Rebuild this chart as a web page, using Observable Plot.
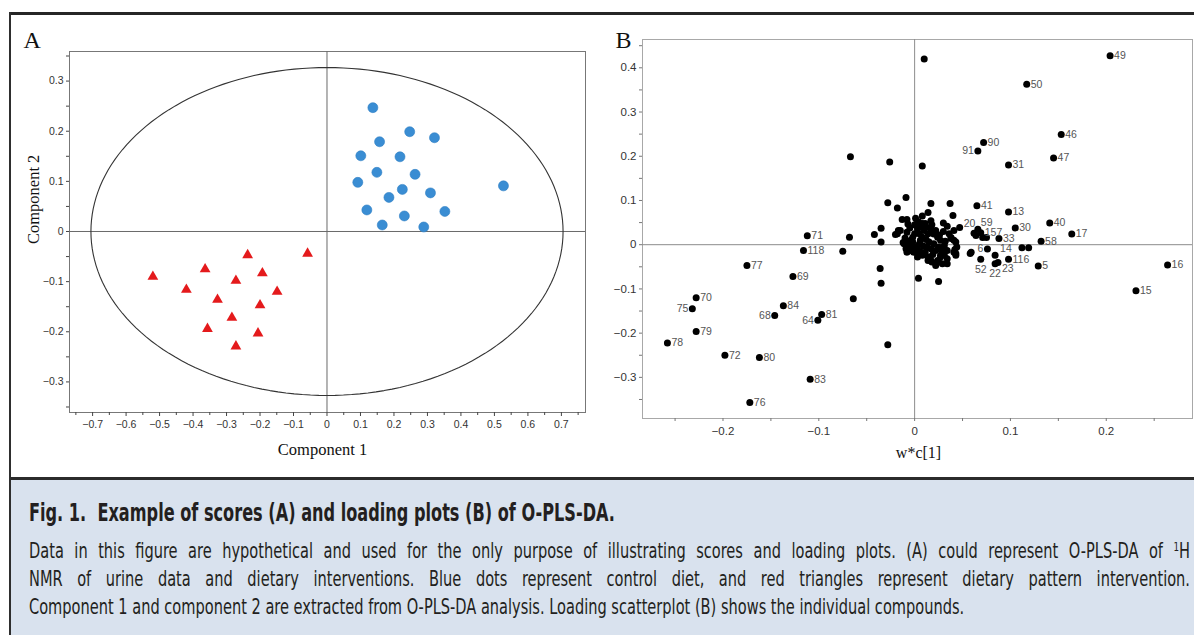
<!DOCTYPE html>
<html>
<head>
<meta charset="utf-8">
<script src="https://cdn.jsdelivr.net/npm/d3@7"></script>
<script src="https://cdn.jsdelivr.net/npm/@observablehq/plot@0.6"></script>
<style>
html,body{margin:0;padding:0;}
body{width:1194px;height:635px;overflow:hidden;background:#fff;position:relative;}
#topRule{position:absolute;left:9px;top:12px;width:1185px;height:3px;background:#262626;}
#leftRule{position:absolute;left:9px;top:12px;width:2px;height:623px;background:#2e2e2e;z-index:3;}
#panelA{position:absolute;left:0;top:0;}
#panelB{position:absolute;left:600px;top:0;}
#caption{position:absolute;left:9px;top:477px;width:1185px;height:158px;background:#d9e2ee;border-top:3px solid #2b2b2b;box-sizing:border-box;}
.cap{position:absolute;left:29px;white-space:nowrap;color:#231f20;font-family:"Liberation Sans Narrow","Arial Narrow","DejaVu Sans Condensed",sans-serif;line-height:1;transform-origin:0 0;}
.cap sup{font-size:0.6em;line-height:0;vertical-align:0.6em;}
</style>
</head>
<body>
<div id="topRule"></div>
<div id="leftRule"></div>
<div id="panelA"></div>
<div id="panelB"></div>
<div id="caption"></div>
<div class="cap" id="capTitle" style="top:501px;font-size:24px;font-weight:bold;">Fig. 1.&nbsp; Example of scores (A) and loading plots (B) of O-PLS-DA.</div>
<div class="cap" id="capL1" style="top:540.5px;font-size:20.5px;">Data in this figure are hypothetical and used for the only purpose of illustrating scores and loading plots. (A) could represent O-PLS-DA of <sup>1</sup>H</div>
<div class="cap" id="capL2" style="top:568.5px;font-size:20.5px;">NMR of urine data and dietary interventions. Blue dots represent control diet, and red triangles represent dietary pattern intervention.</div>
<div class="cap" id="capL3" style="top:596.5px;font-size:20.5px;">Component 1 and component 2 are extracted from O-PLS-DA analysis. Loading scatterplot (B) shows the individual compounds.</div>
<script>
// ---------- Panel A: scores ----------
const controlX = [0.137, 0.247, 0.321, 0.157, 0.101, 0.218, 0.149, 0.263, 0.092, 0.225, 0.309, 0.185, 0.527, 0.119, 0.231, 0.352, 0.165, 0.289];
const controlY = [0.247, 0.199, 0.187, 0.179, 0.151, 0.149, 0.118, 0.114, 0.098, 0.084, 0.077, 0.068, 0.091, 0.043, 0.031, 0.040, 0.013, 0.009];
const interventionX = [-0.520, -0.420, -0.364, -0.327, -0.357, -0.272, -0.284, -0.272, -0.237, -0.193, -0.149, -0.200, -0.206, -0.058];
const interventionY = [-0.090, -0.116, -0.075, -0.136, -0.194, -0.098, -0.172, -0.229, -0.047, -0.083, -0.120, -0.147, -0.203, -0.044];
const ellipseRadii = [0.705, 0.327]; // Hotelling T2 ellipse semi-axes
const ticksAX = [-0.7, -0.6, -0.5, -0.4, -0.3, -0.2, -0.1, 0, 0.1, 0.2, 0.3, 0.4, 0.5, 0.6, 0.7];
const minorAX = [-0.75, -0.65, -0.55, -0.45, -0.35, -0.25, -0.15, -0.05, 0.05, 0.15, 0.25, 0.35, 0.45, 0.55, 0.65, 0.75];
const ticksAY = [-0.3, -0.2, -0.1, 0, 0.1, 0.2, 0.3];
const minorAY = [-0.35, -0.25, -0.15, -0.05, 0.05, 0.15, 0.25, 0.35];

// ---------- Panel B: loadings ----------
const loadLabel = ["49","50","46","47","90","91","31","41","13","40","17","30","33","58","20","59","157","6","14","116","52","22","23","5","16","15",
  "71","118","77","69","70","75","84","68","81","64","79","78","72","80","83","76"];
const loadX = [0.204, 0.117, 0.153, 0.145, 0.072, 0.066, 0.098, 0.065, 0.098, 0.141, 0.164, 0.105, 0.088, 0.132, 0.047, 0.066, 0.069, 0.076, 0.084, 0.098, 0.069, 0.084, 0.087, 0.129, 0.264, 0.231,
  -0.112, -0.116, -0.175, -0.127, -0.228, -0.232, -0.137, -0.146, -0.097, -0.101, -0.228, -0.258, -0.198, -0.162, -0.109, -0.172,
  0.010, -0.067, -0.026, 0.008, -0.009, -0.028, -0.018, 0.017, 0.037, 0.040, 0.004, 0.025, -0.064, -0.035, -0.036, -0.028, -0.075, -0.068, -0.042, -0.035, -0.035, -0.020, -0.017,
  0.112, 0.119, 0.058, 0.059, 0.062, 0.064, 0.071, 0.075, -0.013, -0.008, 0.008, 0.014, 0.003, 0.008, 0.017, 0.030, 0.034, 0.041, -0.015, -0.018, 0.038, 0.041, 0.042, 0.043, 0.034, 0.027, 0.025, 0.034, 0.017, 0.022,
  -0.009, -0.006, -0.002, -0.004, 0.001, 0.005, 0.006, 0.008, 0.005, 0.006, 0.010, 0.014, 0.017, 0.022, 0.024, 0.027, 0.025, 0.022, 0.017, 0.013, 0.011, 0.008, 0.003, -0.001,
  0.015, 0.020, 0.031, 0.029, 0.027, 0.024, 0.018, 0.014, 0.036, 0.038, 0.043, 0.044, 0.041, 0.043, 0.034, 0.029, 0.031, 0.014, 0.003, -0.008, -0.011, -0.002, 0.003, 0.011,
  -0.004, 0.000, -0.006, 0.002,
  -0.010, -0.012, -0.008, -0.005, 0.000, 0.004, 0.012, 0.018, 0.020, 0.026, 0.030, 0.032, 0.012, 0.009, 0.003, -0.003, 0.019, 0.016, 0.006, 0.028, -0.007, 0.001];
const loadY = [0.427, 0.363, 0.249, 0.196, 0.231, 0.212, 0.180, 0.088, 0.074, 0.049, 0.024, 0.038, 0.014, 0.008, 0.039, 0.035, 0.027, -0.010, -0.024, -0.033, -0.033, -0.043, -0.040, -0.048, -0.046, -0.104,
  0.020, -0.013, -0.047, -0.072, -0.120, -0.145, -0.138, -0.160, -0.158, -0.171, -0.196, -0.222, -0.250, -0.255, -0.304, -0.357,
  0.420, 0.199, 0.187, 0.178, 0.107, 0.095, 0.083, 0.093, 0.093, 0.066, -0.076, -0.083, -0.122, -0.087, -0.054, -0.226, -0.015, 0.017, 0.023, 0.037, 0.006, 0.023, 0.032,
  -0.007, -0.007, -0.020, -0.017, 0.026, 0.021, 0.016, 0.016, 0.057, 0.057, 0.065, 0.073, 0.049, 0.048, 0.054, 0.049, 0.042, 0.032, 0.032, 0.025, 0.016, 0.010, -0.011, -0.020, -0.013, -0.024, -0.039, -0.043, -0.036, -0.047,
  -0.009, -0.002, 0.006, -0.013, -0.005, 0.002, 0.010, 0.017, 0.025, 0.040, 0.032, 0.025, 0.036, 0.032, 0.017, 0.010, -0.005, -0.013, -0.009, -0.005, -0.017, -0.024, -0.020, -0.017,
  0.006, 0.002, -0.002, -0.017, -0.028, -0.036, -0.039, -0.036, 0.025, 0.014, 0.006, -0.005, -0.017, -0.024, -0.032, -0.043, -0.024, -0.028, -0.028, -0.017, 0.002, 0.017, 0.036, 0.048,
  0.010, 0.025, 0.005, -0.008,
  0.015, 0.005, 0.028, 0.038, 0.045, 0.052, 0.040, 0.045, 0.024, 0.022, 0.030, 0.008, 0.012, -0.003, -0.010, 0.000, -0.022, -0.028, -0.016, -0.010, 0.047, 0.060];
const ticksBX = [-0.2, -0.1, 0, 0.1, 0.2];
const minorBX = [-0.25, -0.15, -0.05, 0.05, 0.15, 0.25];
const ticksBY = [-0.3, -0.2, -0.1, 0, 0.1, 0.2, 0.3, 0.4];
const minorBY = [-0.35, -0.25, -0.15, -0.05, 0.05, 0.15, 0.25, 0.35, 0.45];

// ---------- build tables ----------
const control = controlX.map((x, i) => ({x, y: controlY[i]}));
const intervention = interventionX.map((x, i) => ({x, y: interventionY[i]}));
const ellipse = d3.range(0, 361, 2).map(a => ({x: ellipseRadii[0] * Math.cos(a * Math.PI / 180), y: ellipseRadii[1] * Math.sin(a * Math.PI / 180)}));
const loadings = loadX.map((x, i) => ({x, y: loadY[i], label: loadLabel[i] || ""}));

const fmt = d => d === 0 ? "0" : d3.format(".1f")(d);
const blank = () => "";
const sans = "'Liberation Sans', Arial, sans-serif";
const serif = "'Liberation Serif', 'Times New Roman', serif";

const plotA = Plot.plot({
  width: 600, height: 470,
  marginLeft: 69, marginRight: 15, marginTop: 51, marginBottom: 58,
  x: {domain: [-0.769, 0.772]},
  y: {domain: [-0.361, 0.359]},
  style: {fontFamily: sans, fontSize: "10.5px", color: "#333", background: "transparent", overflow: "visible"},
  marks: [
    Plot.frame({stroke: "#777"}),
    Plot.ruleX([0], {stroke: "#6a6a6a"}),
    Plot.ruleY([0], {stroke: "#6a6a6a"}),
    Plot.line(ellipse, {x: "x", y: "y", stroke: "#333", strokeWidth: 1.1}),
    Plot.axisX(ticksAX, {tickSize: 4, tickPadding: 4, tickFormat: fmt, label: null, stroke: "#444"}),
    Plot.axisX(minorAX, {tickSize: 3, tickFormat: blank, label: null, stroke: "#444"}),
    Plot.axisY(ticksAY, {tickSize: 3, tickPadding: 3, tickFormat: fmt, label: null, stroke: "#444"}),
    Plot.axisY(minorAY, {tickSize: 3, tickFormat: blank, label: null, stroke: "#444"}),
    Plot.dot(control, {x: "x", y: "y", r: 5, fill: "#3a8dd3", stroke: "#2f7fc4", strokeWidth: 0.6}),
    Plot.dot(intervention, {x: "x", y: "y", r: 4, symbol: "triangle", fill: "#e41a1c"}),
    Plot.text(["Component 1"], {text: d => d, frameAnchor: "bottom", dx: -5, dy: 37, fontFamily: serif, fontSize: 16.5, fill: "#111", lineAnchor: "middle"}),
    Plot.text(["Component 2"], {text: d => d, frameAnchor: "left", dx: -35.5, dy: 12, rotate: -90, fontFamily: serif, fontSize: 16.5, fill: "#111", lineAnchor: "middle"}),
    Plot.text(["A"], {text: d => d, frameAnchor: "top-left", dx: -46, dy: -4, textAnchor: "start", lineAnchor: "bottom", fontFamily: serif, fontSize: 24, fill: "#111"})
  ]
});
document.getElementById("panelA").appendChild(plotA);

const leftSet = new Set(["91", "75", "68", "64", "6"]);
const belowSet = new Set(["52", "22"]);
const place = {"59": [3, -7], "14": [5, -7], "23": [4, 6], "20": [4, -4]};
const rightLab = loadings.filter(d => d.label && !leftSet.has(d.label) && !belowSet.has(d.label) && !place[d.label]);
const leftLab = loadings.filter(d => leftSet.has(d.label));
const belowLab = loadings.filter(d => belowSet.has(d.label));
const specialLab = loadings.filter(d => place[d.label]);
const labStyle = {x: "x", y: "y", text: "label", fontFamily: sans, fontSize: 10.5, fill: "#555"};

const plotB = Plot.plot({
  width: 594, height: 470,
  marginLeft: 42, marginRight: 2, marginTop: 39, marginBottom: 52,
  x: {domain: [-0.284, 0.290]},
  y: {domain: [-0.393, 0.464]},
  style: {fontFamily: sans, fontSize: "11.5px", color: "#333", background: "transparent", overflow: "visible"},
  marks: [
    Plot.frame({stroke: "#a8a8a8"}),
    Plot.ruleX([0], {stroke: "#8c8c8c"}),
    Plot.ruleY([0], {stroke: "#8c8c8c"}),
    Plot.axisX(ticksBX, {tickSize: 3, tickPadding: 5, tickFormat: fmt, label: null, stroke: "#777"}),
    Plot.axisX(minorBX, {tickSize: 3, tickFormat: blank, label: null, stroke: "#777"}),
    Plot.axisY(ticksBY, {tickSize: 3, tickPadding: 3, tickFormat: fmt, label: null, stroke: "#777"}),
    Plot.axisY(minorBY, {tickSize: 3, tickFormat: blank, label: null, stroke: "#777"}),
    Plot.dot(loadings, {x: "x", y: "y", r: 3.5, fill: "#000"}),
    Plot.text(rightLab, {...labStyle, dx: 4, textAnchor: "start"}),
    Plot.text(leftLab, {...labStyle, dx: -4, textAnchor: "end"}),
    Plot.text(belowLab, {...labStyle, dy: 10, textAnchor: "middle"}),
    ...specialLab.map(d => Plot.text([d], {...labStyle, dx: place[d.label][0], dy: place[d.label][1], textAnchor: "start"})),
    Plot.text(["w*c[1]"], {text: d => d, frameAnchor: "bottom", dx: 1, dy: 34.5, fontFamily: serif, fontSize: 16, fill: "#111", lineAnchor: "middle"}),
    Plot.text(["B"], {text: d => d, frameAnchor: "top-left", dx: -27, dy: 8, textAnchor: "start", lineAnchor: "bottom", fontFamily: serif, fontSize: 24, fill: "#111"})
  ]
});
document.getElementById("panelB").appendChild(plotB);

// ---------- caption fitting ----------
const titleEl = document.getElementById("capTitle");
titleEl.style.transform = "scaleX(" + (586 / titleEl.getBoundingClientRect().width) + ")";
const l1 = document.getElementById("capL1");
const l3 = document.getElementById("capL3");
const s3 = 853 / l3.getBoundingClientRect().width;
const s1 = 1161 / l1.getBoundingClientRect().width;
const s = s3 + 0.4 * (s1 - s3);
l3.style.transform = "scaleX(" + s + ")";
["capL1", "capL2"].forEach(id => {
  const el = document.getElementById(id);
  const w = el.getBoundingClientRect().width;
  const target = 1161 / s;
  if (w < target) {
    const n = (el.textContent.match(/ /g) || []).length;
    el.style.wordSpacing = ((target - w) / n) + "px";
    el.style.transform = "scaleX(" + s + ")";
  } else {
    el.style.transform = "scaleX(" + (1161 / w) + ")";
  }
});
</script>
</body>
</html>
